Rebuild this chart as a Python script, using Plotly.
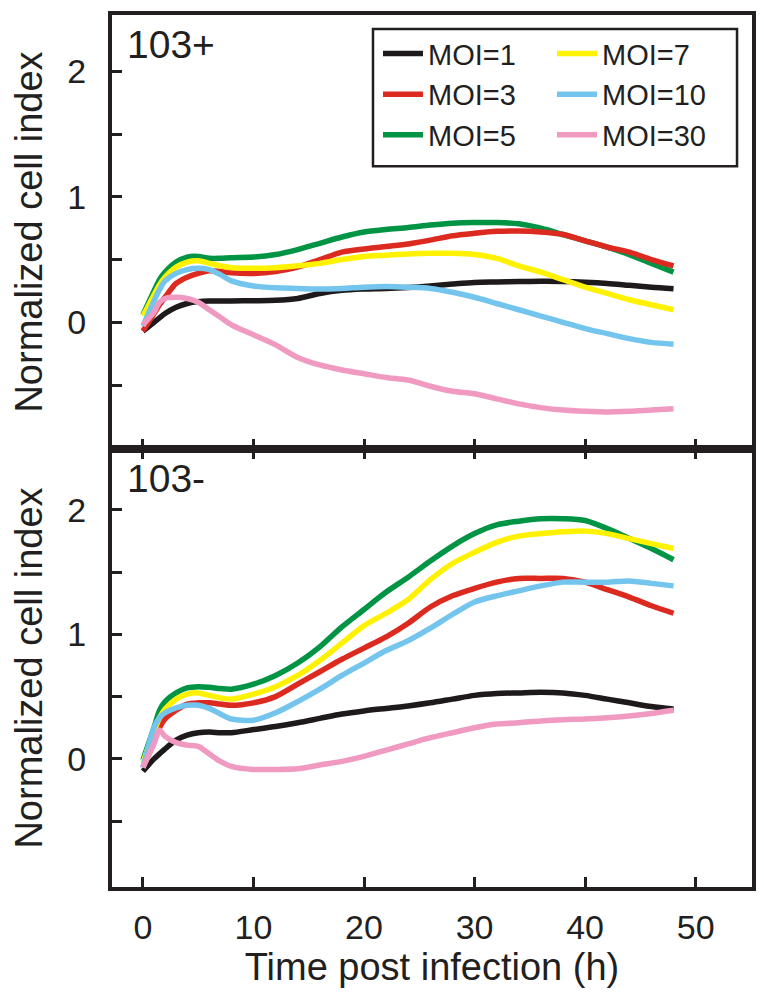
import plotly.graph_objects as go

# ---------------- data ----------------
time_h = [0, 1, 1.5, 2, 3, 4, 5, 6, 7, 8, 10, 12, 14, 16, 18, 20, 22, 24, 26, 28,
          30, 32, 34, 36, 38, 40, 42, 44, 46, 48]

series_names = ["MOI=1", "MOI=3", "MOI=5", "MOI=7", "MOI=10", "MOI=30"]

# panel "103+"
pos_moi1 = [-0.07, 0.0, 0.035, 0.07, 0.12, 0.15, 0.165, 0.17, 0.17, 0.17, 0.172, 0.175, 0.19, 0.23,
            0.255, 0.265, 0.27, 0.278, 0.29, 0.305, 0.318, 0.322, 0.325, 0.327, 0.326, 0.32,
            0.31, 0.295, 0.28, 0.268]
pos_moi3 = [-0.07, 0.07, 0.14, 0.2, 0.31, 0.36, 0.39, 0.41, 0.405, 0.395, 0.39, 0.405, 0.44, 0.5,
            0.56, 0.585, 0.605, 0.625, 0.655, 0.69, 0.71, 0.725, 0.728, 0.72, 0.70, 0.65,
            0.60, 0.56, 0.50, 0.45]
pos_moi5 = [0.06, 0.25, 0.34, 0.4, 0.48, 0.52, 0.525, 0.51, 0.51, 0.515, 0.52, 0.54, 0.58, 0.63,
            0.68, 0.72, 0.74, 0.755, 0.775, 0.79, 0.795, 0.795, 0.785, 0.75, 0.70, 0.65,
            0.60, 0.54, 0.47, 0.40]
pos_moi7 = [0.05, 0.22, 0.3, 0.36, 0.44, 0.48, 0.49, 0.47, 0.45, 0.435, 0.43, 0.435, 0.45, 0.47,
            0.5, 0.525, 0.535, 0.545, 0.55, 0.55, 0.54, 0.51, 0.45, 0.40, 0.34, 0.28,
            0.23, 0.18, 0.14, 0.10]
pos_moi10 = [-0.03, 0.17, 0.26, 0.33, 0.39, 0.42, 0.43, 0.42, 0.38, 0.33, 0.29, 0.275, 0.27, 0.265,
             0.27, 0.28, 0.285, 0.28, 0.27, 0.24, 0.2, 0.15, 0.1, 0.05, 0.0, -0.05,
             -0.09, -0.13, -0.16, -0.175]
pos_moi30 = [-0.02, 0.08, 0.16, 0.19, 0.2, 0.19, 0.16, 0.1, 0.04, -0.02, -0.1, -0.18, -0.28, -0.34,
             -0.38, -0.41, -0.44, -0.46, -0.51, -0.55, -0.57, -0.61, -0.65, -0.68, -0.7, -0.71,
             -0.715, -0.71, -0.70, -0.69]

# panel "103-"
neg_moi1 = [-0.1, 0.0, 0.04, 0.08, 0.15, 0.19, 0.21, 0.215, 0.21, 0.21, 0.235, 0.26, 0.29, 0.325,
            0.36, 0.385, 0.405, 0.425, 0.45, 0.48, 0.51, 0.525, 0.53, 0.535, 0.53, 0.51,
            0.48, 0.45, 0.42, 0.40]
neg_moi3 = [-0.07, 0.15, 0.25, 0.32, 0.39, 0.44, 0.45, 0.45, 0.44, 0.43, 0.45, 0.5, 0.6, 0.7,
            0.8, 0.89, 0.98, 1.09, 1.22, 1.31, 1.37, 1.42, 1.45, 1.45, 1.45, 1.42,
            1.36, 1.30, 1.23, 1.17]
neg_moi5 = [-0.01, 0.25, 0.39, 0.46, 0.53, 0.57, 0.58, 0.575, 0.565, 0.56, 0.6, 0.67, 0.77, 0.9,
            1.06, 1.2, 1.34, 1.46, 1.59, 1.71, 1.81, 1.88, 1.91, 1.93, 1.93, 1.915,
            1.85, 1.77, 1.69, 1.60]
neg_moi7 = [-0.03, 0.22, 0.33, 0.4, 0.48, 0.52, 0.53, 0.51, 0.49, 0.48, 0.52, 0.58, 0.67, 0.79,
            0.93, 1.07, 1.17, 1.28, 1.44, 1.57, 1.66, 1.74, 1.79, 1.81, 1.825, 1.83,
            1.81, 1.77, 1.73, 1.69]
neg_moi10 = [-0.07, 0.25, 0.33, 0.37, 0.41, 0.43, 0.43, 0.405, 0.36, 0.32, 0.31, 0.37, 0.46, 0.56,
             0.67, 0.77, 0.87, 0.95, 1.05, 1.16, 1.26, 1.31, 1.35, 1.39, 1.42, 1.42,
             1.42, 1.43, 1.41, 1.39]
neg_moi30 = [-0.07, 0.12, 0.23, 0.18, 0.13, 0.11, 0.1, 0.04, -0.02, -0.06, -0.085, -0.085, -0.08, -0.05,
             -0.02, 0.02, 0.07, 0.12, 0.17, 0.21, 0.25, 0.28, 0.29, 0.305, 0.315, 0.32,
             0.33, 0.345, 0.365, 0.39]

x_ticks = [0, 10, 20, 30, 40, 50]
y_tickvals = [-0.5, 0, 0.5, 1, 1.5, 2]
y_ticktext = ["", "0", "", "1", "", "2"]
panel_labels = ["103+", "103-"]
x_title = "Time post infection (h)"
y_title = "Normalized cell index"

# ---------------- style ----------------
colors = {"MOI=1": "#1e1a1b", "MOI=3": "#dc2a20", "MOI=5": "#009444",
          "MOI=7": "#fff200", "MOI=10": "#74c5ee", "MOI=30": "#f19ac1"}
legend_of = {"MOI=1": "legend", "MOI=3": "legend", "MOI=5": "legend",
             "MOI=7": "legend2", "MOI=10": "legend2", "MOI=30": "legend2"}
draw_order = ["MOI=1", "MOI=5", "MOI=3", "MOI=7", "MOI=10", "MOI=30"]
rank = {n: i for i, n in enumerate(series_names)}

pos = dict(zip(series_names, [pos_moi1, pos_moi3, pos_moi5, pos_moi7, pos_moi10, pos_moi30]))
neg = dict(zip(series_names, [neg_moi1, neg_moi3, neg_moi5, neg_moi7, neg_moi10, neg_moi30]))

FONT = "Liberation Sans, Arial, sans-serif"
INK = "#231f20"
LW = 5.5

fig = go.Figure()
for name in draw_order:
    fig.add_trace(go.Scatter(x=time_h, y=pos[name], name=name, mode="lines",
                             line=dict(color=colors[name], width=LW, shape="spline", smoothing=0.8),
                             legend=legend_of[name], legendrank=rank[name],
                             xaxis="x", yaxis="y"))
for name in draw_order:
    fig.add_trace(go.Scatter(x=time_h, y=neg[name], name=name, mode="lines",
                             line=dict(color=colors[name], width=LW, shape="spline", smoothing=0.8),
                             showlegend=False, xaxis="x2", yaxis="y2"))

split = 0.5023
axis_common = dict(showline=True, linewidth=4, linecolor=INK, ticks="inside", ticklen=10,
                   tickwidth=3, tickcolor=INK, showgrid=False, zeroline=False,
                   tickfont=dict(family=FONT, size=34, color=INK))
title_font = dict(family=FONT, size=38, color=INK)

# page body adds an 8px offset; margins compensate so the plot area sits at x 112-752, y 11-887
fig.update_layout(
    width=764, height=1001,
    margin=dict(l=104, r=20, t=3, b=122),
    paper_bgcolor="white", plot_bgcolor="white",
    font=dict(family=FONT, color=INK),
    xaxis=dict(**axis_common, domain=[0, 1], anchor="y", range=[-2.8, 55.1],
               tickvals=x_ticks, showticklabels=False, mirror=True),
    xaxis2=dict(**axis_common, domain=[0, 1], anchor="y2", range=[-2.8, 55.1],
                tickvals=x_ticks, mirror="ticks", ticklabelstandoff=7,
                title=dict(text=x_title, font=title_font, standoff=8)),
    yaxis=dict(**axis_common, domain=[split, 1], anchor="x", range=[-1.01, 2.45],
               tickvals=y_tickvals, ticktext=y_ticktext, mirror=True, ticklabelstandoff=15,
               title=dict(text=y_title, font=title_font, standoff=26)),
    yaxis2=dict(**axis_common, domain=[0, split], anchor="x2", range=[-1.03, 2.49],
                tickvals=y_tickvals, ticktext=y_ticktext, mirror=True, ticklabelstandoff=15,
                title=dict(text=y_title, font=title_font, standoff=26)),
    legend=dict(x=0.4156, y=0.985, xanchor="left", yanchor="top", bgcolor="rgba(0,0,0,0)",
                font=dict(family=FONT, size=29, color=INK), itemwidth=40, tracegroupgap=0),
    legend2=dict(x=0.6875, y=0.985, xanchor="left", yanchor="top", bgcolor="rgba(0,0,0,0)",
                 font=dict(family=FONT, size=29, color=INK), itemwidth=40, tracegroupgap=0),
    shapes=[dict(type="rect", xref="paper", yref="paper", x0=0.4078, x1=0.9766,
                 y0=0.8265, y1=0.984, line=dict(color=INK, width=2.5))],
    annotations=[
        dict(text=panel_labels[0], xref="paper", yref="paper", x=0.02, y=0.9667,
             xanchor="left", yanchor="middle", showarrow=False,
             font=dict(family=FONT, size=39, color=INK)),
        dict(text=panel_labels[1], xref="paper", yref="paper", x=0.02, y=0.468,
             xanchor="left", yanchor="middle", showarrow=False,
             font=dict(family=FONT, size=39, color=INK)),
    ],
)

fig.write_html("out.html")
